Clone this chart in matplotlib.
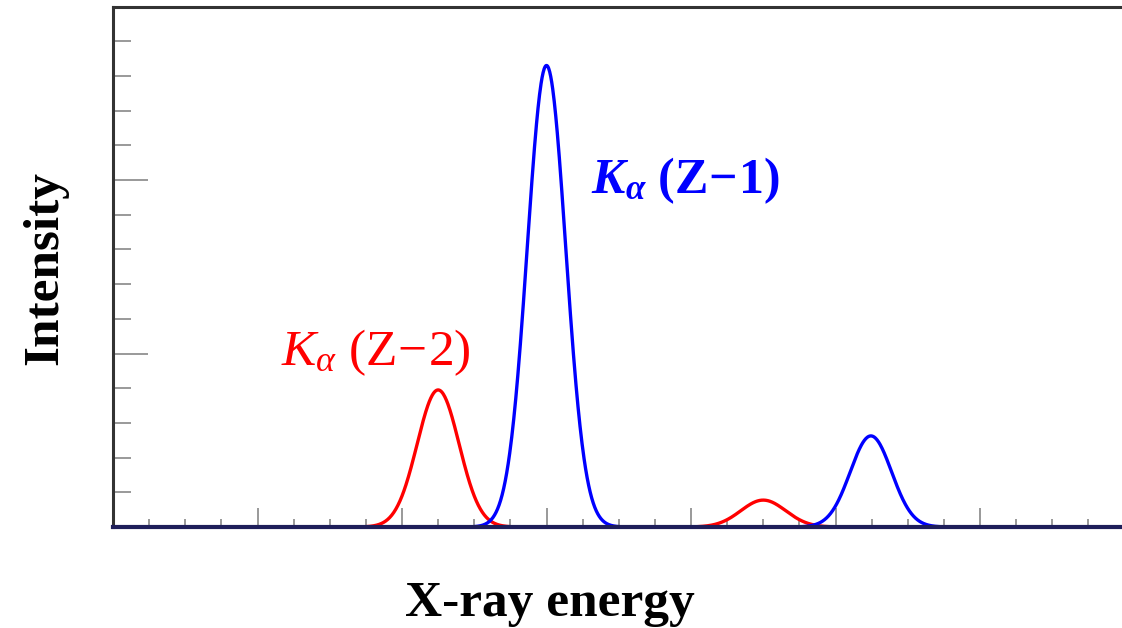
import numpy as np
import matplotlib
matplotlib.use("Agg")
import matplotlib.pyplot as plt
from matplotlib.ticker import MultipleLocator

plt.rcParams["mathtext.fontset"] = "custom"
plt.rcParams["mathtext.rm"] = "Liberation Serif"
plt.rcParams["mathtext.it"] = "Liberation Serif:italic"
plt.rcParams["mathtext.bf"] = "Liberation Serif:bold"
plt.rcParams["mathtext.bfit"] = "Liberation Serif:italic:bold"

# Peak parameters (energy position, intensity, width) for each element's K-alpha/K-beta lines
red_centers = [2.25, 4.50]
red_heights = [0.79, 0.155]
red_widths = [0.145, 0.155]

blue_centers = [3.00, 5.245]
blue_heights = [2.66, 0.525]
blue_widths = [0.133, 0.143]

label_red = r"$K_{\alpha}\ \mathrm{(Z\!-\!2)}$"
label_blue = r"$\mathbfit{K}_{\mathbfit{\alpha}}\ \mathbf{(Z\!-\!1)}$"

energy = np.linspace(0, 7, 2000)


def spectrum(centers, heights, widths):
    total = np.zeros_like(energy)
    for c, h, w in zip(centers, heights, widths):
        total += h * np.exp(-0.5 * ((energy - c) / w) ** 2)
    return total


fig = plt.figure(figsize=(11.22, 6.28), dpi=100)
ax = fig.add_axes([113 / 1122, 101 / 628, (1124.5 - 113) / 1122, (527 - 6.5) / 628])

ax.plot(energy, spectrum(red_centers, red_heights, red_widths), color="#ff0000", lw=2.4, zorder=3)
ax.plot(energy, spectrum(blue_centers, blue_heights, blue_widths), color="#0000ff", lw=2.4, zorder=3)

ax.set_xlim(0, 7)
ax.set_ylim(0, 3.0)

ax.xaxis.set_major_locator(MultipleLocator(1))
ax.xaxis.set_minor_locator(MultipleLocator(0.25))
ax.yaxis.set_major_locator(MultipleLocator(1))
ax.yaxis.set_minor_locator(MultipleLocator(0.2))
ax.tick_params(axis="both", which="both", direction="in", colors="#888888",
               labelleft=False, labelbottom=False, left=True, bottom=True,
               top=False, right=False)
ax.tick_params(axis="x", which="major", length=14, width=1.2)
ax.tick_params(axis="x", which="minor", length=6, width=1.2)
ax.tick_params(axis="y", which="major", length=25, width=1.2)
ax.tick_params(axis="y", which="minor", length=13, width=1.2)

for side in ("left", "top"):
    ax.spines[side].set_color("#333333")
    ax.spines[side].set_linewidth(2.2)
ax.spines["right"].set_visible(False)
ax.spines["bottom"].set_color("#1e1e5a")
ax.spines["bottom"].set_linewidth(3)
ax.spines["bottom"].set_zorder(4)

ax.text(1.82, 0.93, label_red, color="#ff0000", fontsize=37, ha="center", va="baseline")
ax.text(3.965, 1.925, label_blue, color="#0000ff", fontsize=36, ha="center", va="baseline")

fig.text(45 / 1122, 1 - 268 / 628, "Intensity", rotation=90, ha="center", va="center",
         fontsize=37, fontweight="bold", family="Liberation Serif")
fig.text(550 / 1122, 1 - 604 / 628, "X-ray energy", ha="center", va="center",
         fontsize=37, fontweight="bold", family="Liberation Serif")

fig.savefig("out.png", dpi=100)
